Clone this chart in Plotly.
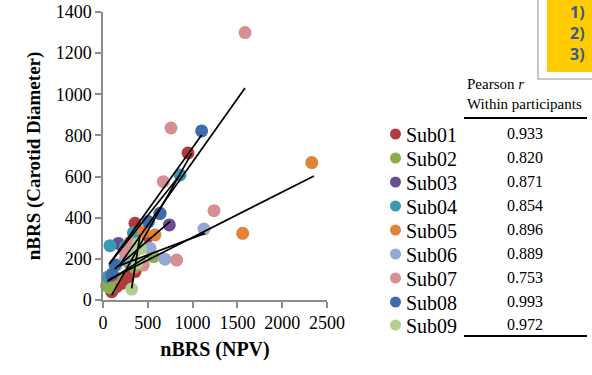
import plotly.graph_objects as go

subjects = ["Sub01", "Sub02", "Sub03", "Sub04", "Sub05", "Sub06", "Sub07", "Sub08", "Sub09"]
colors = ["#B23B3B", "#8AAE4A", "#6A4C93", "#3A9AB2", "#E08535", "#93A9D3", "#D68F92", "#3C6DAA", "#B4CF8C"]
pearson_r = ["0.933", "0.820", "0.871", "0.854", "0.896", "0.889", "0.753", "0.993", "0.972"]
note_items = ["1)", "2)", "3)"]

npv = {
    "Sub01": [97, 150, 208, 279, 357, 300, 357, 480, 949],
    "Sub02": [40, 80, 140, 280, 350, 562],
    "Sub03": [100, 171, 300, 430, 740],
    "Sub04": [78, 56, 339, 250, 636, 859],
    "Sub05": [120, 300, 580, 450, 1559, 2330],
    "Sub06": [150, 250, 525, 692, 1127],
    "Sub07": [250, 300, 450, 673, 759, 822, 1239, 1585],
    "Sub08": [100, 134, 506, 636, 1101],
    "Sub09": [320, 350, 394, 420, 380],
}
carotid = {
    "Sub01": [40, 65, 81, 110, 138, 240, 373, 300, 715],
    "Sub02": [70, 60, 110, 185, 160, 211],
    "Sub03": [125, 275, 240, 330, 365],
    "Sub04": [264, 112, 327, 260, 421, 608],
    "Sub05": [110, 220, 316, 330, 324, 668],
    "Sub06": [170, 200, 251, 198, 345],
    "Sub07": [230, 280, 170, 575, 836, 194, 434, 1300],
    "Sub08": [120, 170, 381, 421, 822],
    "Sub09": [53, 230, 275, 250, 180],
}
# fitted line endpoints
fit_x0 = [97, 50, 130, 70, 59, 152, 200, 78, 320]
fit_y0 = [24, 90, 150, 175, 97, 162, 180, 180, 57]
fit_x1 = [989, 560, 748, 859, 2355, 1138, 1585, 1101, 413]
fit_y1 = [713, 230, 381, 608, 603, 324, 1030, 802, 316]

x_ticks = [0, 500, 1000, 1500, 2000, 2500]
y_ticks = [0, 200, 400, 600, 800, 1000, 1200, 1400]

W, H = 592, 375
L, R, T, B = 103, 327, 12, 300


def px(xp):
    return (xp - L) / (R - L)


def py(yp):
    return (B - yp) / (B - T)


serif = "Liberation Serif"
fig = go.Figure()

for i, s in enumerate(subjects):
    fig.add_trace(go.Scatter(
        x=npv[s], y=carotid[s], mode="markers", name=s,
        marker=dict(color=colors[i], size=13, line=dict(width=0)),
        showlegend=False, cliponaxis=False))

for i, s in enumerate(subjects):
    fig.add_trace(go.Scatter(
        x=[fit_x0[i], fit_x1[i]], y=[fit_y0[i], fit_y1[i]], mode="lines",
        line=dict(color="black", width=1.7), showlegend=False, hoverinfo="skip",
        cliponaxis=False))

axis_common = dict(showline=True, linecolor="#8C8C8C", linewidth=1.5, ticks="outside",
                   ticklen=6, tickcolor="#8C8C8C", tickwidth=1.5, showgrid=False,
                   zeroline=False, automargin=False, ticklabeloverflow="allow",
                   tickfont=dict(family=serif, size=18, color="black"))
fig.update_xaxes(range=[0, 2500], tickvals=x_ticks, ticktext=[str(v) for v in x_ticks],
                 title=dict(text="<b>nBRS (NPV)</b>", font=dict(family=serif, size=20, color="black"),
                            standoff=10), **axis_common)
fig.update_yaxes(range=[0, 1400], tickvals=y_ticks, ticktext=[str(v) for v in y_ticks],
                 title=dict(text="<b>nBRS (Carotid Diameter)</b>", font=dict(family=serif, size=19, color="black"),
                            standoff=10), **axis_common)

shapes = []
annotations = []

# legend + table
row_y = [134, 158, 182, 206, 230, 254, 278, 302, 325]
for i, s in enumerate(subjects):
    cy = row_y[i]
    shapes.append(dict(type="circle", xref="paper", yref="paper",
                       x0=px(390), x1=px(401), y0=py(cy + 5.5), y1=py(cy - 5.5),
                       fillcolor=colors[i], line=dict(width=0)))
    annotations.append(dict(xref="paper", yref="paper", x=px(404), y=py(cy + 1), text=s,
                            showarrow=False, xanchor="left", yanchor="middle",
                            font=dict(family=serif, size=20, color="black")))
    annotations.append(dict(xref="paper", yref="paper", x=px(525), y=py(cy - 1), text=pearson_r[i],
                            showarrow=False, xanchor="center", yanchor="middle",
                            font=dict(family=serif, size=16, color="black")))

annotations.append(dict(xref="paper", yref="paper", x=px(465), y=py(84), text="Pearson <i>r</i>",
                        showarrow=False, xanchor="left", yanchor="middle",
                        font=dict(family=serif, size=15, color="black")))
annotations.append(dict(xref="paper", yref="paper", x=px(465), y=py(104), text="Within participants",
                        showarrow=False, xanchor="left", yanchor="middle",
                        font=dict(family=serif, size=15, color="black")))
for ly in [118, 336]:
    shapes.append(dict(type="line", xref="paper", yref="paper", x0=px(464), x1=px(587),
                       y0=py(ly), y1=py(ly), line=dict(color="black", width=2)))

# yellow note box (cut off at the corner)
shapes.append(dict(type="rect", xref="paper", yref="paper", x0=px(537), x1=px(600),
                   y0=py(80), y1=py(-5), fillcolor="#C8C8C8", line=dict(width=0), layer="above"))
shapes.append(dict(type="rect", xref="paper", yref="paper", x0=px(539), x1=px(600),
                   y0=py(78), y1=py(-5), fillcolor="#FFFFFF", line=dict(width=0), layer="above"))
shapes.append(dict(type="rect", xref="paper", yref="paper", x0=px(547), x1=px(600),
                   y0=py(72), y1=py(-5), fillcolor="#FFCC00", line=dict(width=0), layer="above"))
annotations.append(dict(xref="paper", yref="paper", x=px(568), y=py(-1),
                        text="<br>".join(f"<b>{t}</b>" for t in note_items),
                        showarrow=False, xanchor="left", yanchor="top", align="left",
                        font=dict(family="Noto Sans", size=16, color="#3C5A88")))

fig.update_layout(width=W, height=H,
                  margin=dict(l=L, r=W - R, t=T, b=H - B),
                  paper_bgcolor="white", plot_bgcolor="white",
                  shapes=shapes, annotations=annotations, showlegend=False)

fig.write_html("out.html", config={"displayModeBar": False},
               post_script="document.body.style.margin='0px';")
